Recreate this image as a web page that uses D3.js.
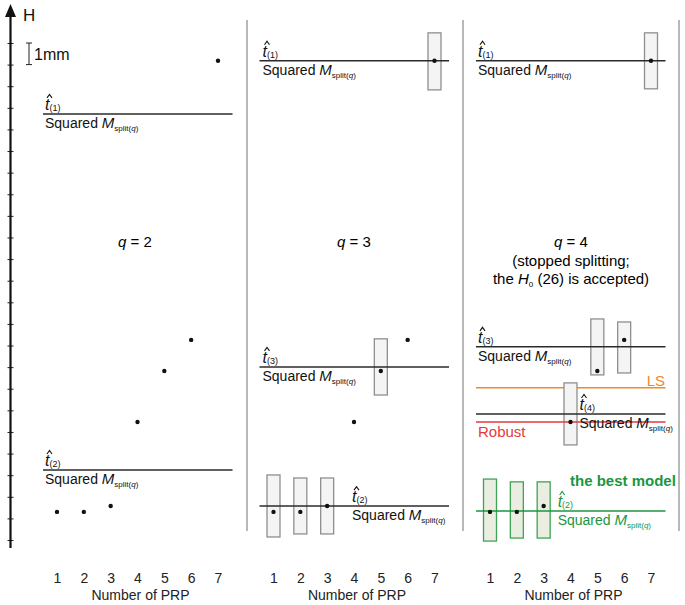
<!DOCTYPE html>
<html><head><meta charset="utf-8">
<script src="https://cdn.jsdelivr.net/npm/d3@7"></script>
<style>
body{margin:0;background:#fff;}
svg text{font-family:"Liberation Sans",Arial,sans-serif;}
</style></head>
<body><svg id="c" width="685" height="605"></svg>
<script>
// ---------- data ----------
const prpNumbers = [1, 2, 3, 4, 5, 6, 7];
const panelTitles = ["q = 2", "q = 3", "q = 4"];
const dotValues = [1.30, 1.30, 1.57, 5.46, 7.82, 9.26, 22.18]; // H (mm) per PRP

// split lines (t-hat) per panel
const q2LineValues = [19.72, 3.24];
const q2LineIdx = ["(1)", "(2)"];
const q3LineValues = [22.18, 8.01, 1.57];
const q3LineIdx = ["(1)", "(3)", "(2)"];
const q4LineValues = [22.18, 8.94, 5.83, 1.34];
const q4LineIdx = ["(1)", "(3)", "(4)", "(2)"];
const lsValue = 7.04;
const robustValue = 5.46;

// intervals (boxes)
const q3BoxPRP = [7, 5, 1, 2, 3];
const q3BoxLow = [20.83, 6.71, 0.14, 0.28, 0.28];
const q3BoxHigh = [23.47, 9.31, 3.01, 2.87, 2.87];
const q4BoxPRP = [7, 5, 6, 4, 1, 2, 3];
const q4BoxLow = [20.88, 7.64, 7.73, 4.40, -0.05, 0.09, 0.09];
const q4BoxHigh = [23.47, 10.23, 10.09, 7.27, 2.82, 2.69, 2.69];
const q4BoxBest = [false, false, false, false, true, true, true];

const hTicks = d3.range(0, 24);

// ---------- layout ----------
const svg = d3.select("#c");
const y = d3.scaleLinear().domain([0, 23]).range([540, 43]);
const panelOffset = 216.5;
const xs = [0, 1, 2].map(i => d3.scaleLinear().domain([1, 7]).range([57 + i * panelOffset, 218 + i * panelOffset]));

const DARK = "#2b2b2b", GRAY = "#9a9a9a", ORANGE = "#f0892a", RED = "#e5393b", GREEN = "#1a9640";

// y axis
const axisG = svg.append("g").attr("transform", "translate(10.5,0)");
axisG.call(d3.axisLeft(y).tickValues(hTicks).tickFormat("").tickSize(3));
axisG.select(".domain").remove();
axisG.selectAll(".tick line").attr("x1", -3).attr("x2", 3).attr("stroke", "#222").attr("stroke-width", 1);
axisG.append("line").attr("x1", 0).attr("x2", 0).attr("y1", 548).attr("y2", 14).attr("stroke", "#111").attr("stroke-width", 2.2);
axisG.append("path").attr("d", "M0,4 L-5.5,17 L5.5,17 Z").attr("fill", "#111");
svg.append("text").attr("x", 23).attr("y", 21).attr("font-size", 17).attr("fill", "#111").text("H");

// 1mm scale bar
const sb = svg.append("g").attr("stroke", "#222").attr("stroke-width", 1);
sb.append("line").attr("x1", 29).attr("x2", 29).attr("y1", y(23)).attr("y2", y(22));
sb.append("line").attr("x1", 26).attr("x2", 32).attr("y1", y(23)).attr("y2", y(23));
sb.append("line").attr("x1", 26).attr("x2", 32).attr("y1", y(22)).attr("y2", y(22));
svg.append("text").attr("x", 34).attr("y", 60).attr("font-size", 16).attr("fill", "#111").text("1mm");

// dividers
[247, 463, 679].forEach(xv => {
  svg.append("line").attr("x1", xv).attr("x2", xv).attr("y1", 20).attr("y2", 531)
    .attr("stroke", GRAY).attr("stroke-width", 1.4);
});

// helper: t-hat label + "Squared M_split(q)"
function splitLabel(g, x0, lineY, idx, color) {
  const t = g.append("text").attr("x", x0).attr("y", lineY - 4).attr("fill", color);
  t.append("tspan").attr("font-size", 16).attr("font-style", "italic").text("t");
  t.append("tspan").attr("font-size", 9).attr("dy", 1).text(idx);
  g.append("path")
    .attr("d", `M${x0 + 2},${lineY - 16} L${x0 + 4.5},${lineY - 19.5} L${x0 + 7},${lineY - 16}`)
    .attr("fill", "none").attr("stroke", color).attr("stroke-width", 1.1);
  const s = g.append("text").attr("x", x0).attr("y", lineY + 14).attr("font-size", 14).attr("fill", color);
  s.append("tspan").text("Squared ");
  s.append("tspan").attr("font-style", "italic").attr("font-size", 15).text("M");
  s.append("tspan").attr("font-size", 8).attr("dy", 3).text("split(");
  s.append("tspan").attr("font-size", 8).attr("font-style", "italic").text("q");
  s.append("tspan").attr("font-size", 8).text(")");
}

function hLine(g, x, h, color) {
  g.append("line").attr("x1", x(1) - 14).attr("x2", x(7) + 14.5).attr("y1", y(h)).attr("y2", y(h))
    .attr("stroke", color).attr("stroke-width", 1.5);
}

function boxes(g, x, prp, lo, hi, best) {
  prp.forEach((p, i) => {
    const isBest = best ? best[i] : false;
    g.append("rect").attr("x", x(p) - 6.5).attr("width", 13)
      .attr("y", y(hi[i])).attr("height", y(lo[i]) - y(hi[i]))
      .attr("fill", isBest ? "#e9eee1" : "#f4f4f4")
      .attr("stroke", isBest ? "#3ea356" : "#8f8f8f").attr("stroke-width", 1.3);
  });
}

function dots(g, x) {
  g.selectAll("circle.d").data(prpNumbers).join("circle").attr("class", "d")
    .attr("cx", d => x(d)).attr("cy", (d, i) => y(dotValues[i])).attr("r", 2.2).attr("fill", "#111");
}

function xAxis(i) {
  const x = xs[i];
  const g = svg.append("g").attr("transform", "translate(0,578)");
  g.call(d3.axisBottom(x).tickValues(prpNumbers).tickFormat(d3.format("d")).tickSize(0));
  g.select(".domain").remove();
  g.selectAll(".tick text").attr("font-size", 14).attr("fill", "#222").attr("dy", 0).attr("y", 5)
    .attr("font-family", "Liberation Sans, Arial, sans-serif");
  svg.append("text").attr("x", (x(1) + x(7)) / 2 + 3).attr("y", 600).attr("text-anchor", "middle")
    .attr("font-size", 14).attr("fill", "#222").text("Number of PRP");
}

// ---------- panel q = 2 ----------
{
  const x = xs[0], g = svg.append("g");
  q2LineValues.forEach((h, i) => { hLine(g, x, h, DARK); splitLabel(g, x(1) - 12, y(h), q2LineIdx[i], "#111"); });
  dots(g, x);
  g.append("text").attr("x", 135).attr("y", 247).attr("text-anchor", "middle").attr("font-size", 15)
    .html('<tspan font-style="italic">q</tspan> = 2');
  xAxis(0);
}

// ---------- panel q = 3 ----------
{
  const x = xs[1], g = svg.append("g");
  boxes(g, x, q3BoxPRP, q3BoxLow, q3BoxHigh);
  q3LineValues.forEach(h => hLine(g, x, h, DARK));
  splitLabel(g, x(1) - 11, y(q3LineValues[0]), q3LineIdx[0], "#111");
  splitLabel(g, x(1) - 11, y(q3LineValues[1]), q3LineIdx[1], "#111");
  splitLabel(g, x(4) - 2, y(q3LineValues[2]), q3LineIdx[2], "#111");
  dots(g, x);
  g.append("text").attr("x", 354).attr("y", 247).attr("text-anchor", "middle").attr("font-size", 15)
    .html('<tspan font-style="italic">q</tspan> = 3');
  xAxis(1);
}

// ---------- panel q = 4 ----------
{
  const x = xs[2], g = svg.append("g");
  hLine(g, x, lsValue, ORANGE);
  boxes(g, x, q4BoxPRP, q4BoxLow, q4BoxHigh, q4BoxBest);
  hLine(g, x, q4LineValues[0], DARK);
  hLine(g, x, q4LineValues[1], DARK);
  hLine(g, x, q4LineValues[2], DARK);
  hLine(g, x, robustValue, RED);
  hLine(g, x, q4LineValues[3], GREEN);
  splitLabel(g, x(1) - 12, y(q4LineValues[0]), q4LineIdx[0], "#111");
  splitLabel(g, x(1) - 12, y(q4LineValues[1]), q4LineIdx[1], "#111");
  splitLabel(g, x(4) + 9, y(q4LineValues[2]), q4LineIdx[2], "#111");
  splitLabel(g, x(3) + 14, y(q4LineValues[3]), q4LineIdx[3], GREEN);
  g.append("text").attr("x", x(7) + 14).attr("y", y(lsValue) - 2).attr("text-anchor", "end")
    .attr("font-size", 15).attr("fill", ORANGE).text("LS");
  g.append("text").attr("x", x(1) - 12).attr("y", y(robustValue) + 15)
    .attr("font-size", 15).attr("fill", RED).text("Robust");
  g.append("text").attr("x", 570).attr("y", 486).attr("font-size", 15).attr("font-weight", "bold")
    .attr("fill", GREEN).text("the best model");
  dots(g, x);
  g.append("text").attr("x", 571).attr("y", 247).attr("text-anchor", "middle").attr("font-size", 15)
    .html('<tspan font-style="italic">q</tspan> = 4');
  g.append("text").attr("x", 571).attr("y", 266).attr("text-anchor", "middle").attr("font-size", 15)
    .text("(stopped splitting;");
  g.append("text").attr("x", 571).attr("y", 284).attr("text-anchor", "middle").attr("font-size", 15)
    .html('the <tspan font-style="italic">H</tspan><tspan font-size="8" dy="3">0</tspan><tspan dy="-3"> (26) is accepted)</tspan>');
  xAxis(2);
}
</script></body></html>
